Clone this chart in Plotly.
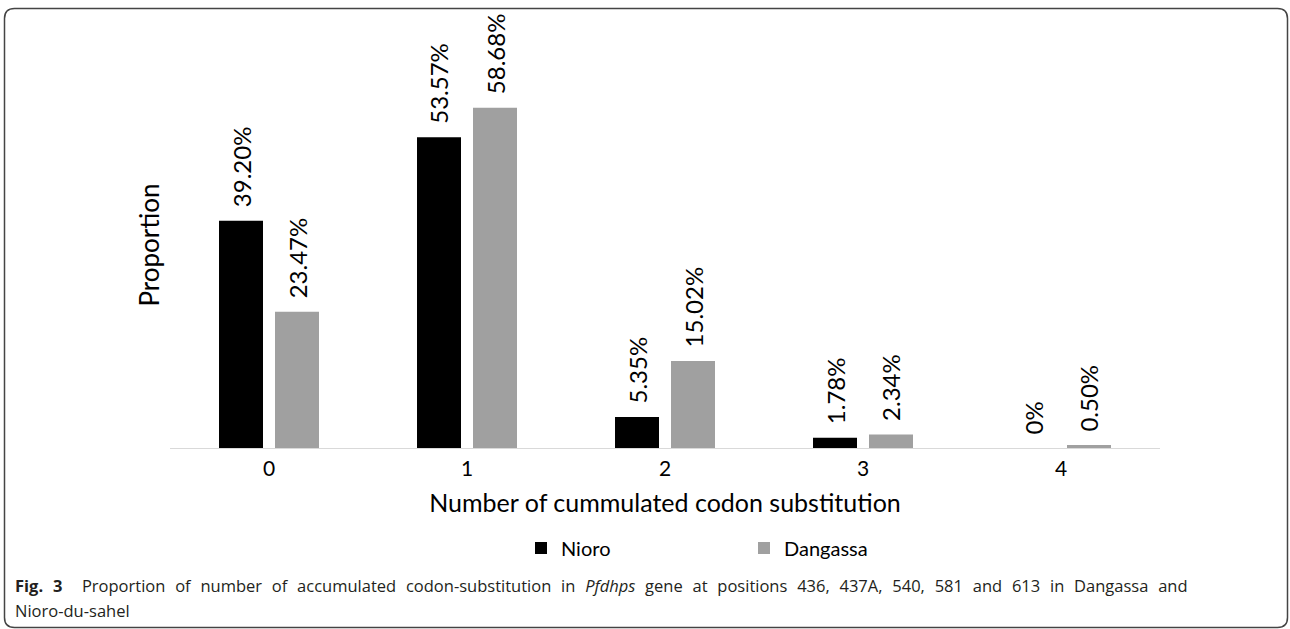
import plotly.graph_objects as go

categories = [0, 1, 2, 3, 4]
tick_labels = ["0", "1", "2", "3", "4"]
nioro = [39.20, 53.57, 5.35, 1.78, 0.0]
dangassa = [23.47, 58.68, 15.02, 2.34, 0.50]
nioro_labels = ["39.20%", "53.57%", "5.35%", "1.78%", "0%"]
dangassa_labels = ["23.47%", "58.68%", "15.02%", "2.34%", "0.50%"]

W, H = 1290, 629
ML, MR, MT, MB = 170, 130, 42, 181
PW, PH = W - ML - MR, H - MT - MB


def px(x):
    return (x - ML) / PW


def py(y):
    return (H - MB - y) / PH


BAR_W = 0.2222
OFF_N = -0.2525
OFF_D = 0.0303
FONT = "Lato"

fig = go.Figure()
fig.add_trace(go.Bar(x=categories, y=nioro, name="Nioro", marker_color="#000000",
                     width=BAR_W, offset=OFF_N, marker_line_width=0))
fig.add_trace(go.Bar(x=categories, y=dangassa, name="Dangassa", marker_color="#a0a0a0",
                     width=BAR_W, offset=OFF_D, marker_line_width=0))

annotations = []
for xs, ys, labs, off in [(categories, nioro, nioro_labels, OFF_N),
                          (categories, dangassa, dangassa_labels, OFF_D)]:
    for xv, yv, lab in zip(xs, ys, labs):
        annotations.append(dict(x=xv + off + BAR_W / 2, y=yv, xref="x", yref="y",
                                text=lab, textangle=-90, showarrow=False,
                                xanchor="center", yanchor="bottom", yshift=11,
                                font=dict(family=FONT, size=24, color="#000000")))

# caption
annotations.append(dict(x=px(13), y=py(585), xref="paper", yref="paper", xanchor="left",
                        yanchor="middle", showarrow=False, align="left",
                        text="<span style=\"word-spacing:5.5px\"><b>Fig. 3</b>  Proportion of number of accumulated codon-substitution in "
                             "<i>Pfdhps</i> gene at positions 436, 437A, 540, 581 and 613 in Dangassa and</span>",
                        font=dict(family="Open Sans", size=16.5, color="#231f20")))
annotations.append(dict(x=px(13), y=py(610), xref="paper", yref="paper", xanchor="left",
                        yanchor="middle", showarrow=False, align="left",
                        text="Nioro-du-sahel",
                        font=dict(family="Open Sans", size=16.5, color="#231f20")))

# rounded frame
l, t, r, b, rad = 4.5, 8.5, 1287.5, 627.5, 10
pts = [("M", l + rad, t), ("L", r - rad, t), ("Q", r, t, r, t + rad), ("L", r, b - rad),
       ("Q", r, b, r - rad, b), ("L", l + rad, b), ("Q", l, b, l, b - rad), ("L", l, t + rad),
       ("Q", l, t, l + rad, t)]
path = ""
for p in pts:
    cmd = p[0]
    coords = p[1:]
    s = []
    for i in range(0, len(coords), 2):
        s.append(f"{px(coords[i]):.5f},{py(coords[i + 1]):.5f}")
    path += cmd + " ".join(s) + " "
path += "Z"

fig.update_layout(
    width=W, height=H,
    margin=dict(l=ML, r=MR, t=MT, b=MB, autoexpand=False),
    paper_bgcolor="white", plot_bgcolor="white",
    barmode="overlay",
    font=dict(family=FONT, color="#000000"),
    xaxis=dict(range=[-0.5, 4.5], tickvals=categories, ticktext=tick_labels,
               showline=True, linecolor="#d9d9d9", linewidth=1, ticks="",
               showgrid=False, zeroline=False, tickfont=dict(size=21, color="#000000"),
               ticklabelstandoff=2,
               title=dict(text="Number of cummulated codon substitution",
                          font=dict(size=25, color="#000000"), standoff=15)),
    yaxis=dict(range=[0, 70], showticklabels=False, showgrid=False, zeroline=False,
               showline=False, ticks="",
               title=dict(text="Proportion", font=dict(size=26, color="#000000"), standoff=1)),
    showlegend=True,
    legend=dict(orientation="h", x=px(521), y=py(548), xanchor="left", yanchor="middle",
                font=dict(size=20, color="#000000"), entrywidth=178, entrywidthmode="pixels",
                traceorder="normal", bgcolor="rgba(0,0,0,0)"),
    annotations=annotations,
    shapes=[dict(type="path", path=path, xref="paper", yref="paper",
                 line=dict(color="#444444", width=1.5), layer="above")],
)

fig.write_html("out.html", config={"displayModeBar": False},
               post_script="document.body.style.margin='0px';")
